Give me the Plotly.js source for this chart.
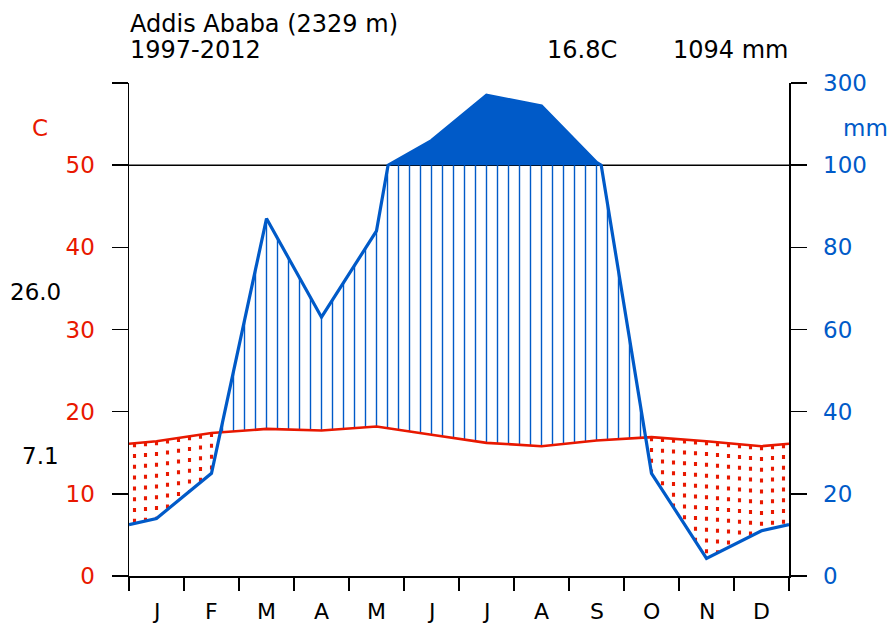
<!DOCTYPE html>
<html>
<head>
<meta charset="utf-8">
<script src="https://cdn.plot.ly/plotly-3.0.1.min.js"></script>
<style>html,body{margin:0;padding:0;background:#fff;}#chart{width:888px;height:627px;}</style>
</head>
<body>
<div id="chart"></div>
<script>
// ---- data ----
const months = ['J','F','M','A','M','J','J','A','S','O','N','D'];
const tempC = [16.4, 17.4, 17.9, 17.7, 18.2, 17.2, 16.2, 15.8, 16.5, 16.9, 16.4, 15.8];
const precipMm = [14, 25, 87, 63, 84, 160, 270, 244, 107, 25, 4.3, 11];
const scaleVals = [0, 10, 20, 30, 40, 50, 60];
const tempTickText = ['0', '10', '20', '30', '40', '50', ''];
const precipTickText = ['0', '20', '40', '60', '80', '100', '300'];
const stationText = 'Addis Ababa (2329 m)';
const periodText = '1997-2012';
const meanTempText = '16.8C';
const totalPrecipText = '1094 mm';
const absMaxText = '26.0';
const absMinText = '7.1';

// ---- styling ----
const TCOL = '#e81800', PCOL = '#005ac8';
const FONT = 'DejaVu Sans';
const W = 888, H = 627, L = 129, R = 99, T = 83, B = 51;
const pw = W - L - R, ph = H - T - B;
const px = v => (v - L) / pw;
const py = v => (H - B - v) / ph;

// ---- derived geometry (from data) ----
const centers = months.map((m, i) => i + 0.5);
const xs = [0].concat(centers, [12]);
const tWrap = (tempC[11] + tempC[0]) / 2;
const pWrap = (precipMm[11] + precipMm[0]) / 2;
const tExt = [tWrap].concat(tempC, [tWrap]);
const pExt = [pWrap].concat(precipMm, [pWrap]);
const scaleP = p => p <= 100 ? p / 2 : 50 + (p - 100) / 20;

// refine precipitation polyline with 100 mm crossings
const rx = [], rp = [];
for (let i = 0; i < xs.length; i++) {
  rx.push(xs[i]); rp.push(pExt[i]);
  if (i < xs.length - 1 && (pExt[i] - 100) * (pExt[i + 1] - 100) < 0) {
    const t = (100 - pExt[i]) / (pExt[i + 1] - pExt[i]);
    rx.push(xs[i] + t * (xs[i + 1] - xs[i])); rp.push(100);
  }
}
function interp(xa, ya, x) {
  for (let i = 0; i < xa.length - 1; i++) {
    if (x >= xa[i] && x <= xa[i + 1]) {
      const t = (x - xa[i]) / (xa[i + 1] - xa[i]);
      return ya[i] + t * (ya[i + 1] - ya[i]);
    }
  }
  return ya[ya.length - 1];
}

// hatching
const hbX = [], hbY = [], hrX = [], hrY = [];
for (let k = 0; k < 60; k++) {
  const x = 0.1 + 0.2 * k;
  const tv = interp(xs, tExt, x);
  const pm = interp(rx, rp, x);
  const ps = pm >= 100 ? 50 : pm / 2;
  if (ps > tv) { hbX.push(x, x, null); hbY.push(tv, ps, null); }
  else { hrX.push(x, x, null); hrY.push(tv, ps, null); }
}

// fill above 100 mm
const fx = [], fy = [];
for (let i = 0; i < rx.length; i++) {
  if (rp[i] >= 100) { fx.push(rx[i]); fy.push(scaleP(rp[i])); }
}

const traces = [
  {x: hbX, y: hbY, mode: 'lines', line: {color: PCOL, width: 1.4}, hoverinfo: 'skip', connectgaps: false},
  {x: hrX, y: hrY, mode: 'lines', line: {color: TCOL, width: 3.1, dash: '4px,6.8px'}, hoverinfo: 'skip', connectgaps: false},
  {x: fx, y: fy, mode: 'lines', fill: 'toself', fillcolor: PCOL, line: {color: PCOL, width: 0.5}, hoverinfo: 'skip'},
  {x: xs, y: tExt, mode: 'lines', line: {color: TCOL, width: 2.6}, hoverinfo: 'skip'},
  {x: rx, y: rp.map(scaleP), mode: 'lines', line: {color: PCOL, width: 3.2}, hoverinfo: 'skip'},
  {x: [0], y: [0], yaxis: 'y2', mode: 'markers', marker: {opacity: 0}, hoverinfo: 'skip'}
];

const annotations = [];
function addText(text, x, y, anchor, color, size) {
  annotations.push({text: text, xref: 'paper', yref: 'paper', x: px(x), y: py(y),
    xanchor: anchor, yanchor: 'middle', showarrow: false,
    font: {family: FONT, size: size || 23, color: color || '#000'}});
}
addText(stationText, 128, 23.5, 'left', '#000', 24);
addText(periodText, 128, 50, 'left', '#000', 24);
addText(meanTempText, 582, 50, 'center', '#000', 24);
addText(totalPrecipText, 790, 50, 'right', '#000', 24);
addText('C', 40, 128, 'center', TCOL);
addText('mm', 841, 128, 'left', PCOL);
addText(absMaxText, 63, 291.5, 'right', '#000');
addText(absMinText, 61, 455.5, 'right', '#000');
months.forEach((m, i) => {
  annotations.push({text: m, xref: 'x', yref: 'paper', x: centers[i], y: py(611.5),
    xanchor: 'center', yanchor: 'middle', showarrow: false, borderpad: 0,
    font: {family: FONT, size: 22, color: '#000'}});
});

const layout = {
  width: W, height: H,
  margin: {l: L, r: R, t: T, b: B, pad: 0},
  paper_bgcolor: '#fff', plot_bgcolor: '#fff',
  showlegend: false,
  font: {family: FONT},
  xaxis: {range: [0, 12], tickvals: [0,1,2,3,4,5,6,7,8,9,10,11,12], showticklabels: false,
    ticks: 'outside', ticklen: 13, tickwidth: 1.5, tickcolor: '#000',
    showline: true, linecolor: '#000', linewidth: 1.5, showgrid: false, zeroline: false, fixedrange: true},
  yaxis: {range: [0, 60], tickvals: scaleVals, ticktext: tempTickText,
    ticks: 'outside', ticklen: 16, tickwidth: 1.5, tickcolor: '#000', ticklabelstandoff: 12,
    tickfont: {family: FONT, size: 23, color: TCOL},
    showline: true, linecolor: '#000', linewidth: 1.5, showgrid: false, zeroline: false, fixedrange: true},
  yaxis2: {range: [0, 60], overlaying: 'y', side: 'right', tickvals: scaleVals, ticktext: precipTickText,
    ticks: 'outside', ticklen: 16, tickwidth: 1.5, tickcolor: '#000', ticklabelstandoff: 12,
    tickfont: {family: FONT, size: 23, color: PCOL},
    showline: true, linecolor: '#000', linewidth: 1.5, showgrid: false, zeroline: false, fixedrange: true},
  shapes: [
    {type: 'line', xref: 'paper', yref: 'y', x0: px(113), x1: px(805), y0: 50, y1: 50,
      line: {color: '#000', width: 1.5}, layer: 'below'}
  ],
  annotations: annotations
};

Plotly.newPlot('chart', traces, layout, {displayModeBar: false, staticPlot: true});
</script>
</body>
</html>
